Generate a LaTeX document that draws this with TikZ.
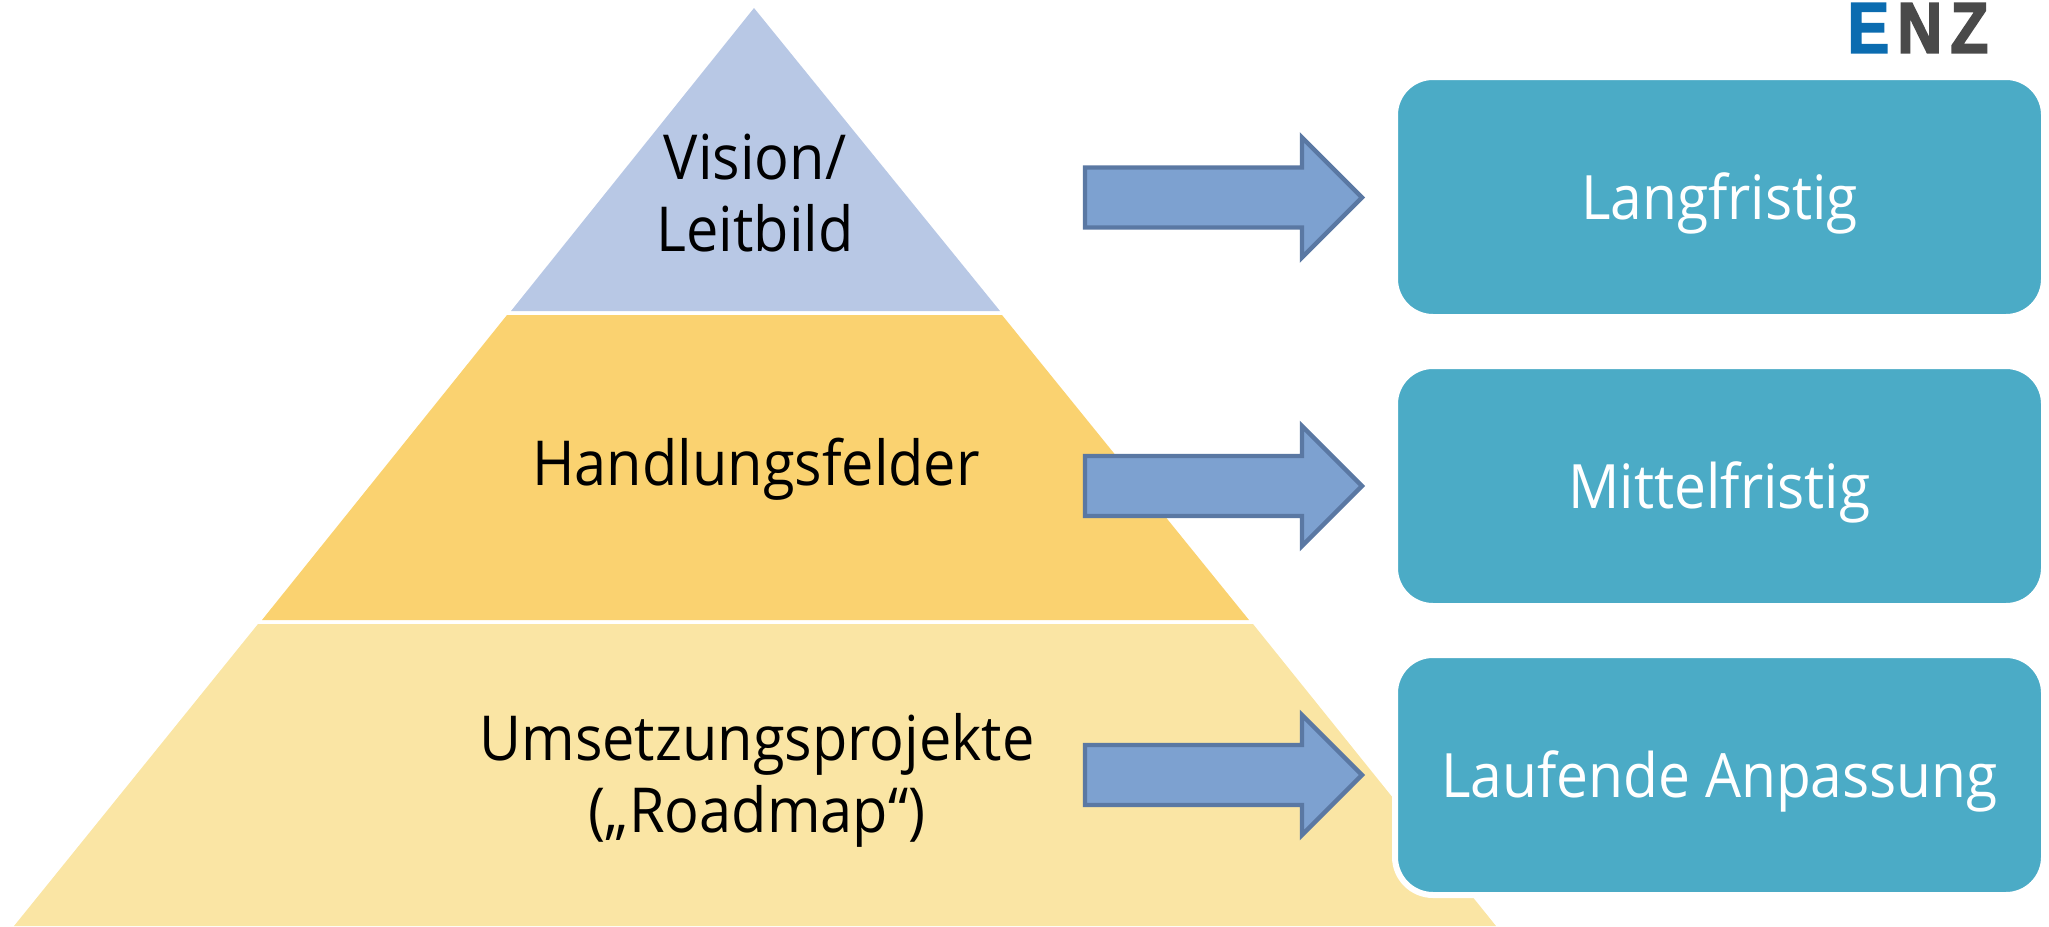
\documentclass[tikz,border=0pt]{standalone}
\usepackage{fontspec}
\setmainfont[FakeStretch=0.93]{Open Sans}
\newfontfamily\logofont[FakeStretch=0.86,FakeBold=2.5]{Liberation Sans Bold}
\definecolor{tier1}{HTML}{B8C8E5}
\definecolor{tier2}{HTML}{FAD270}
\definecolor{tier3}{HTML}{FAE5A4}
\definecolor{boxc}{HTML}{4BABC6}
\definecolor{arrowfill}{HTML}{7DA1D0}
\definecolor{arrowline}{HTML}{5A78A3}
\definecolor{logob}{HTML}{0B6CB0}
\definecolor{logog}{HTML}{4A4A4A}
\tikzset{
  tierlabel/.style={align=center,text=black,font=\fontsize{31}{36}\selectfont},
  termbox/.style={draw=white,line width=3pt,fill=boxc,rounded corners=19pt,minimum width=324.5pt,minimum height=120pt,inner sep=0pt,text=white,text height=25pt,text depth=2.5pt,font=\fontsize{30.6}{36}\selectfont,anchor=center},
  blockarrow/.style={fill=arrowfill,draw=arrowline,line width=2.2pt,miter limit=10},
}
\begin{document}
\begin{tikzpicture}[x=0.5pt,y=-0.5pt]
\useasboundingbox (0,0) rectangle (2049,926);
\fill[tier1] (754,8) -- (1000,311) -- (511,311) -- cycle;
\fill[tier2] (507,315) -- (1002,315) -- (1249,620) -- (262,620) -- cycle;
\fill[tier3] (258,624) -- (1253,624) -- (1496,926) -- (14,926) -- cycle;
\node[tierlabel] (vision) at (755,193) {Vision/\\Leitbild};
\node[tierlabel] (felder) at (756,469) {Handlungsfelder};
\node[tierlabel] (projekte) at (757,780) {Umsetzungsprojekte\\(„Roadmap“)};
\node[termbox] (lang) at (1719.5,197) {Langfristig};
\node[termbox] (mittel) at (1719.5,486) {Mittelfristig};
\node[termbox] (lauf) at (1719.5,775) {Laufende Anpassung};
\foreach \c in {197.5,486,775}{
  \draw[blockarrow] (1085,\c-30) -- (1302,\c-30) -- (1302,\c-60) -- (1362,\c) -- (1302,\c+60) -- (1302,\c+30) -- (1085,\c+30) -- cycle;
}
\node[anchor=center,inner sep=0pt,font=\logofont\fontsize{36}{36}\selectfont] (logo) at (1918,28) {\textcolor{logob}{E}\kern4.2pt\textcolor{logog}{N}\kern4.2pt\textcolor{logog}{Z}};
\end{tikzpicture}
\end{document}
